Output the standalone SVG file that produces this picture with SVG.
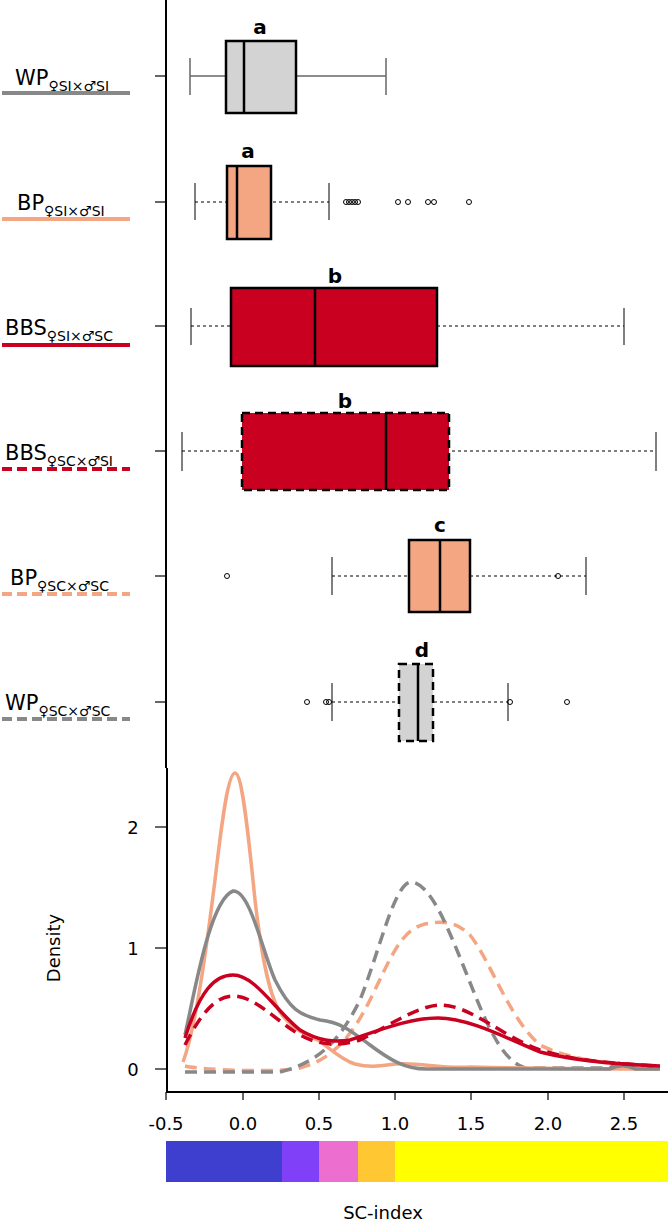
<svg xmlns="http://www.w3.org/2000/svg" width="668" height="1223" viewBox="0 0 668 1223">
<style>
text{font-family:"DejaVu Sans","Noto Sans",sans-serif;fill:#000}
.lab{font-size:21px}
.sub{font-size:14px}
.let{font-size:20px;font-weight:bold;text-anchor:middle}
.tk{font-size:18px;text-anchor:middle}
.ax{stroke:#000;stroke-width:2;fill:none}
.tick{stroke:#000;stroke-width:1.2}
.wh{stroke:#000;stroke-width:1;stroke-dasharray:3,3;fill:none}
.cap{stroke:#000;stroke-width:1}
.box{stroke:#000;stroke-width:2.5}
.dbox{stroke:#000;stroke-width:2.5;stroke-dasharray:8,5}
.med{stroke:#000;stroke-width:2.5}
.out{fill:none;stroke:#000;stroke-width:1}
.crv{fill:none;stroke-width:3.5;stroke-linejoin:round}
.dsh{stroke-dasharray:12,7}
</style>
<g id="axes">
<line class="ax" x1="166" y1="0" x2="166" y2="768"/>
<line class="ax" x1="167" y1="768" x2="167" y2="1092"/>
<line class="ax" x1="166" y1="1092" x2="668" y2="1092"/>
<g class="tick">
<line x1="155" y1="76" x2="166" y2="76"/><line x1="155" y1="202" x2="166" y2="202"/>
<line x1="155" y1="326" x2="166" y2="326"/><line x1="155" y1="451" x2="166" y2="451"/>
<line x1="155" y1="576" x2="166" y2="576"/><line x1="155" y1="702" x2="166" y2="702"/>
<line x1="155" y1="827" x2="167" y2="827"/><line x1="155" y1="948" x2="167" y2="948"/><line x1="155" y1="1069" x2="167" y2="1069"/>
<line x1="166" y1="1092" x2="166" y2="1100"/><line x1="243" y1="1092" x2="243" y2="1100"/><line x1="319" y1="1092" x2="319" y2="1100"/>
<line x1="395" y1="1092" x2="395" y2="1100"/><line x1="471" y1="1092" x2="471" y2="1100"/><line x1="548" y1="1092" x2="548" y2="1100"/><line x1="624" y1="1092" x2="624" y2="1100"/>
</g>
<text class="tk" x="133" y="834">2</text><text class="tk" x="133" y="955">1</text><text class="tk" x="133" y="1076">0</text>
<text class="tk" x="166" y="1130">-0.5</text><text class="tk" x="243" y="1130">0.0</text><text class="tk" x="319" y="1130">0.5</text>
<text class="tk" x="395" y="1130">1.0</text><text class="tk" x="471" y="1130">1.5</text><text class="tk" x="548" y="1130">2.0</text><text class="tk" x="624" y="1130">2.5</text>
<text class="tk" transform="translate(60,948) rotate(-90)">Density</text>
<text class="tk" x="383" y="1219">SC-index</text>
</g>
<g id="colorbar">
<rect x="166" y="1141" width="116" height="41" fill="#3F3FCF"/>
<rect x="282" y="1141" width="37" height="41" fill="#8040F8"/>
<rect x="319" y="1141" width="39" height="41" fill="#EC6FD0"/>
<rect x="358" y="1141" width="37" height="41" fill="#FFC832"/>
<rect x="395" y="1141" width="273" height="41" fill="#FFFF00"/>
</g>
<g id="legend">
<g id="lg1"><text class="lab" x="15" y="85">WP<tspan class="sub" dy="6">♀SI×♂SI</tspan></text><line x1="2" y1="93" x2="130" y2="93" stroke="#888" stroke-width="4"/></g>
<g id="lg2"><text class="lab" x="17" y="210">BP<tspan class="sub" dy="6">♀SI×♂SI</tspan></text><line x1="2" y1="219" x2="130" y2="219" stroke="#F4A582" stroke-width="4"/></g>
<g id="lg3"><text class="lab" x="5" y="335">BBS<tspan class="sub" dy="6">♀SI×♂SC</tspan></text><line x1="2" y1="345" x2="130" y2="345" stroke="#CA0020" stroke-width="4"/></g>
<g id="lg4"><text class="lab" x="5" y="460">BBS<tspan class="sub" dy="6">♀SC×♂SI</tspan></text><line x1="2" y1="469" x2="130" y2="469" stroke="#CA0020" stroke-width="4" stroke-dasharray="10,5"/></g>
<g id="lg5"><text class="lab" x="10" y="585">BP<tspan class="sub" dy="6">♀SC×♂SC</tspan></text><line x1="2" y1="594" x2="130" y2="594" stroke="#F4A582" stroke-width="4" stroke-dasharray="10,5"/></g>
<g id="lg6"><text class="lab" x="5" y="710">WP<tspan class="sub" dy="6">♀SC×♂SC</tspan></text><line x1="2" y1="719" x2="130" y2="719" stroke="#888" stroke-width="4" stroke-dasharray="10,5"/></g>
</g>
<g id="box1">
<line x1="190" y1="76" x2="386" y2="76" stroke="#666" stroke-width="1.5"/>
<line x1="190" y1="58" x2="190" y2="95" stroke="#666" stroke-width="1.5"/><line x1="386" y1="58" x2="386" y2="95" stroke="#666" stroke-width="1.5"/>
<rect class="box" x="226" y="41" width="70" height="72" fill="#D3D3D3"/><line class="med" x1="244" y1="41" x2="244" y2="113"/>
<text class="let" x="260" y="34">a</text>
</g>
<g id="box2">
<line class="wh" x1="195" y1="202" x2="329" y2="202"/>
<line class="cap" x1="195" y1="183" x2="195" y2="220"/><line class="cap" x1="329" y1="183" x2="329" y2="220"/>
<rect class="box" x="227" y="166" width="44" height="73" fill="#F4A582"/><line class="med" x1="237" y1="166" x2="237" y2="239"/>
<g class="out"><circle cx="346" cy="202" r="2.5"/><circle cx="349" cy="202" r="2.5"/><circle cx="352" cy="202" r="2.5"/><circle cx="355" cy="202" r="2.5"/><circle cx="358" cy="202" r="2.5"/><circle cx="398" cy="202" r="2.5"/><circle cx="408" cy="202" r="2.5"/><circle cx="428" cy="202" r="2.5"/><circle cx="434" cy="202" r="2.5"/><circle cx="469" cy="202" r="2.5"/></g>
<text class="let" x="248" y="158">a</text>
</g>
<g id="box3">
<line class="wh" x1="191" y1="326" x2="624" y2="326"/>
<line class="cap" x1="191" y1="308" x2="191" y2="345"/><line class="cap" x1="624" y1="308" x2="624" y2="345"/>
<rect class="box" x="231" y="288" width="206" height="78" fill="#C90020"/><line class="med" x1="315" y1="288" x2="315" y2="366"/>
<text class="let" x="335" y="283">b</text>
</g>
<g id="box4">
<line class="wh" x1="182" y1="451" x2="656" y2="451"/>
<line class="cap" x1="182" y1="432" x2="182" y2="471"/><line class="cap" x1="656" y1="432" x2="656" y2="471"/>
<rect class="dbox" x="242" y="413" width="207" height="77" fill="#C90020"/><line class="med" x1="386" y1="413" x2="386" y2="490"/>
<text class="let" x="345" y="408">b</text>
</g>
<g id="box5">
<line class="wh" x1="332" y1="576" x2="586" y2="576"/>
<line class="cap" x1="332" y1="557" x2="332" y2="595"/><line class="cap" x1="586" y1="557" x2="586" y2="595"/>
<rect class="box" x="409" y="540" width="61" height="72" fill="#F4A582"/><line class="med" x1="440" y1="540" x2="440" y2="612"/>
<g class="out"><circle cx="227" cy="576" r="2.5"/><circle cx="558" cy="576" r="2.5"/></g>
<text class="let" x="440" y="532">c</text>
</g>
<g id="box6">
<line class="wh" x1="332" y1="702" x2="508" y2="702"/>
<line class="cap" x1="332" y1="683" x2="332" y2="721"/><line class="cap" x1="508" y1="683" x2="508" y2="721"/>
<rect class="dbox" x="399" y="664" width="34" height="77" fill="#D3D3D3"/><line class="med" x1="418" y1="664" x2="418" y2="741"/>
<g class="out"><circle cx="307" cy="702" r="2.5"/><circle cx="326" cy="702" r="2.5"/><circle cx="329" cy="702" r="2.5"/><circle cx="510" cy="702" r="2.5"/><circle cx="567" cy="702" r="2.5"/></g>
<text class="let" x="422" y="657">d</text>
</g>
<g id="density">
<path class="crv dsh" stroke="#F4A582" d="M185,1066 C200,1070 280,1073 300,1068 C330,1060 350,1040 370,1000 C390,960 400,930 425,924 C440,921 455,920 470,935 C490,960 510,1020 540,1045 C570,1060 610,1064 660,1068"/>
<path class="crv dsh" stroke="#888" d="M185,1072 L280,1072 C320,1062 340,1040 360,1000 C380,950 395,880 412,882 C430,885 445,920 465,970 C485,1020 500,1060 525,1068 L610,1068 C618,1062 626,1060 635,1068 L660,1069"/>
<path class="crv" stroke="#F4A582" d="M183,1062 C195,1030 205,960 215,880 C222,820 228,773 235,773 C242,773 248,830 255,900 C262,960 270,1000 282,1015 C295,1030 305,1035 318,1040 C332,1050 342,1060 355,1064 C370,1068 380,1066 395,1064 C420,1062 440,1069 470,1067 C520,1068 600,1069 660,1069"/>
<path class="crv" stroke="#888" d="M185,1035 C195,990 210,900 233,891 C250,890 262,950 275,980 C290,1010 300,1015 320,1020 C340,1022 350,1030 370,1045 C390,1060 405,1069 426,1069 L610,1069 C618,1065 626,1064 635,1069 L660,1069"/>
<path class="crv dsh" stroke="#CA0020" d="M185,1045 C200,1015 215,996 233,996 C255,996 275,1020 300,1035 C320,1046 340,1046 360,1040 C390,1025 420,1005 440,1005 C470,1005 500,1035 540,1050 C580,1062 620,1064 660,1066"/>
<path class="crv" stroke="#CA0020" d="M185,1038 C200,990 215,975 233,975 C255,975 275,1010 300,1030 C320,1042 335,1042 350,1040 C380,1030 410,1018 438,1018 C470,1018 510,1040 540,1052 C580,1062 620,1064 660,1066"/>
</g>
</svg>
